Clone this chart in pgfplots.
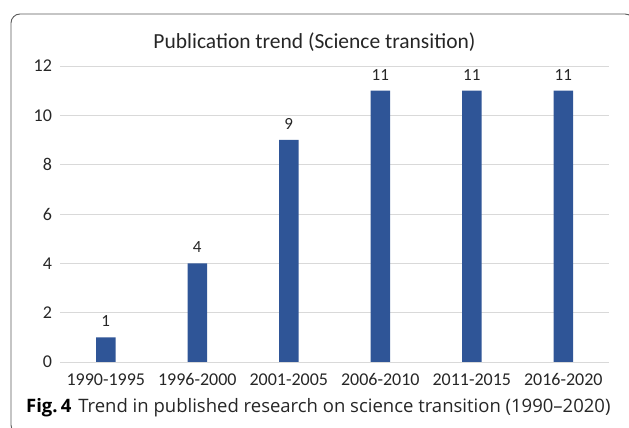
\documentclass[border=0pt]{standalone}
\usepackage{fontspec}
\setmainfont{Carlito}
\newfontfamily\capfont[Ligatures=TeX]{Open Sans}
\usepackage{pgfplots}
\pgfplotsset{compat=1.18}
\definecolor{barblue}{HTML}{2F5597}
\definecolor{gridgray}{HTML}{D9D9D9}
\definecolor{txt}{HTML}{262626}
\definecolor{framegray}{HTML}{5A5A5A}
\begin{document}
\begin{tikzpicture}[x=1pt,y=1pt]
\useasboundingbox (0pt,0pt) rectangle (629pt,428pt);
\begin{scope}
\clip (0pt,0pt) rectangle (629pt,428pt);
\draw[color=framegray, line width=0.9pt, rounded corners=9pt] (11pt,-6pt) rectangle (634pt,414pt);
\end{scope}
\begin{axis}[
  at={(60pt,66pt)}, anchor=south west,
  width=549pt, height=296pt, scale only axis,
  xmin=-0.5, xmax=5.5, ymin=0, ymax=12,
  ytick={0,2,...,12},
  xtick={0,...,5},
  xticklabels={1990-1995,1996-2000,2001-2005,2006-2010,2011-2015,2016-2020},
  ymajorgrids, grid style={gridgray, line width=0.8pt},
  axis line style={draw=none},
  major tick length=0pt,
  /pgf/number format/assume math mode=true,
  ticklabel style={font=\fontsize{18}{18}\selectfont, text=txt},
  yticklabel style={anchor=east, xshift=-4.5pt},
  xticklabel style={anchor=north, yshift=-8pt},
  clip=false,
]
\addplot[ybar, bar width=19.5pt, fill=barblue, draw=none,
  nodes near coords,
  nodes near coords style={font=\fontsize{17}{17}\selectfont, text=txt, anchor=south, yshift=7pt}]
  coordinates {(0,1) (1,4) (2,9) (3,11) (4,11) (5,11)};
\end{axis}
\node[text=txt] at (314.5pt,386pt) {\fontsize{21.5}{21.5}\selectfont Publication trend (Science transition)};
\node[anchor=base west, inner sep=0pt, text=black] at (26pt,15pt) {\capfont\fontsize{18.5}{18.5}\selectfont\textbf{Fig.\,4}\hspace{7pt}{\color{txt}Trend in published research on science transition (1990–2020)}};
\end{tikzpicture}
\end{document}
